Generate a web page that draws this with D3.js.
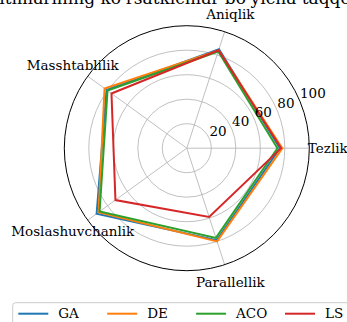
<!DOCTYPE html>
<html>
<head>
<meta charset="utf-8">
<script src="https://cdn.jsdelivr.net/npm/d3@7"></script>
<style>
  html, body { margin: 0; padding: 0; background: #fff; }
  svg { display: block; }
</style>
</head>
<body>
<svg id="chart" width="347" height="322"></svg>
<script>
// Axes of the radar chart and the score of each algorithm on them (0..100)
const categories = ["Tezlik", "Aniqlik", "Masshtablilik", "Moslashuvchanlik", "Parallellik"];
const seriesNames = ["GA", "DE", "ACO", "LS"];
const gaValues  = [76, 85, 81, 91, 79];
const deValues  = [78, 84, 83, 89, 80];
const acoValues = [74, 83, 80, 88, 77];
const lsValues  = [77, 84, 76, 72, 59];
const radialTicks = [20, 40, 60, 80, 100];
const titleText = "Algoritmlarining ko'rsatkichlar bo'yicha taqqoslash";

const seriesValues = [gaValues, deValues, acoValues, lsValues];
const colors = ["#1f77b4", "#ff7f0e", "#2ca02c", "#d62728"];
const serif = "'DejaVu Serif', 'Liberation Serif', serif";

const svg = d3.select("#chart");
const cx = 186.8, cy = 148.2, R = 122.5;
const fontSize = 13.5;

// radius and angle scales; d3 angles run clockwise from 12 o'clock,
// so the first axis sits at 3 o'clock and the rest go counter-clockwise
const r = d3.scaleLinear().domain([0, 100]).range([0, R]);
const angle = d3.scaleLinear().domain([0, categories.length])
  .range([Math.PI / 2, Math.PI / 2 - 2 * Math.PI]);

const g = svg.append("g").attr("transform", `translate(${cx},${cy})`);

// title (sits partly above the top edge)
svg.append("text")
  .attr("x", 173.5).attr("y", 4)
  .attr("text-anchor", "middle")
  .attr("font-family", serif)
  .attr("font-size", 17)
  .text(titleText);

// circular grid
g.selectAll("circle.grid")
  .data(radialTicks.filter(t => t < 100))
  .join("circle")
  .attr("class", "grid")
  .attr("r", d => r(d))
  .attr("fill", "none")
  .attr("stroke", "#b0b0b0")
  .attr("stroke-width", 0.8);

// spokes
const px = (a, rr) => rr * Math.sin(a);
const py = (a, rr) => -rr * Math.cos(a);
g.selectAll("line.spoke")
  .data(categories)
  .join("line")
  .attr("class", "spoke")
  .attr("x1", 0).attr("y1", 0)
  .attr("x2", (d, i) => px(angle(i), r(100)))
  .attr("y2", (d, i) => py(angle(i), r(100)))
  .attr("stroke", "#b0b0b0")
  .attr("stroke-width", 0.8);

// outer frame
g.append("circle")
  .attr("r", r(100))
  .attr("fill", "none")
  .attr("stroke", "#000")
  .attr("stroke-width", 1);

// series polygons
const radar = d3.lineRadial()
  .angle((d, i) => angle(i))
  .radius(d => r(d))
  .curve(d3.curveLinearClosed);

g.selectAll("path.series")
  .data(seriesValues)
  .join("path")
  .attr("class", "series")
  .attr("d", d => radar(d))
  .attr("fill", "none")
  .attr("stroke", (d, i) => colors[i])
  .attr("stroke-width", 2)
  .attr("stroke-linejoin", "miter");

// radial tick labels at 22.5 degrees
const labelAngle = Math.PI / 2 - 22.5 * Math.PI / 180;
g.selectAll("text.rtick")
  .data(radialTicks)
  .join("text")
  .attr("class", "rtick")
  .attr("x", d => px(labelAngle, r(d)))
  .attr("y", d => py(labelAngle, r(d)) - 3)
  .attr("text-anchor", "start")
  .attr("font-family", serif)
  .attr("font-size", fontSize)
  .text(d => d);

// category labels
const labelR = R + 18.5;
g.selectAll("text.cat")
  .data(categories)
  .join("text")
  .attr("class", "cat")
  .attr("x", (d, i) => px(angle(i), labelR))
  .attr("y", (d, i) => py(angle(i), labelR))
  .attr("text-anchor", "middle")
  .attr("dy", "0.35em")
  .attr("font-family", serif)
  .attr("font-size", fontSize)
  .text(d => d);

// legend below the chart
const legend = svg.append("g").attr("transform", "translate(12.7,302.7)");
legend.append("rect")
  .attr("x", 0).attr("y", 0)
  .attr("width", 360).attr("height", 30)
  .attr("rx", 3)
  .attr("fill", "#fff").attr("fill-opacity", 0.8)
  .attr("stroke", "#cccccc").attr("stroke-width", 1);
const items = legend.selectAll("g.item")
  .data(seriesNames)
  .join("g")
  .attr("class", "item")
  .attr("transform", (d, i) => `translate(${5.6 + i * 88.9},11)`);
items.append("line")
  .attr("x1", 0).attr("x2", 30)
  .attr("y1", 0).attr("y2", 0)
  .attr("stroke", (d, i) => colors[i])
  .attr("stroke-width", 2);
items.append("text")
  .attr("x", 40).attr("y", 0)
  .attr("dy", "0.35em")
  .attr("font-family", serif)
  .attr("font-size", fontSize)
  .text(d => d);
</script>
</body>
</html>
